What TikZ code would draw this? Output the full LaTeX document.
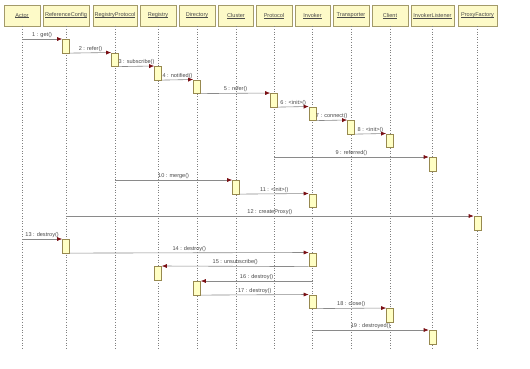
\documentclass[tikz,border=0pt]{standalone}
\usepackage{xcolor}
\usepackage{fontspec}
\usepackage{tikz}
\usetikzlibrary{arrows.meta,positioning,calc}
\newfontfamily\seqfont{Liberation Sans}

\definecolor{headfill}{HTML}{FDFAC8}
\definecolor{headline}{HTML}{A39A6A}
\definecolor{actfill}{HTML}{FFFFC4}
\definecolor{actline}{HTML}{97894F}
\definecolor{tipred}{HTML}{7A0F14}
\definecolor{msggrey}{HTML}{8A8A8A}
\definecolor{txtgrey}{HTML}{4A4A4A}

% underlined participant name
\newcommand{\lifename}[1]{\setbox0\hbox{#1}\rlap{\raisebox{-0.7bp}{\rule{\wd0}{0.35bp}}}\box0}

\tikzset{
  head/.style={draw=headline, line width=0.8bp, fill=headfill, minimum height=21bp,
    inner sep=0pt, text=txtgrey, font=\seqfont\fontsize{5.6}{6}\selectfont},
  act/.style={draw=actline, line width=0.6bp, fill=actfill, minimum width=7bp,
    minimum height=13.5bp, inner sep=0pt, anchor=north},
  life/.style={draw=gray, dotted, line width=0.6bp},
  msg/.style={draw=msggrey, line width=0.6bp, -{Latex[length=5bp,width=4bp,color=tipred]}},
  lbl/.style={midway, above, inner sep=1bp, text=txtgrey, font=\seqfont\fontsize{5.6}{6}\selectfont}
}

\begin{document}
\begin{tikzpicture}[x=1bp, y=-1bp]
      \fill[white] (0,0) rectangle (530,368);
      \useasboundingbox (0,0) rectangle (530,368);

      % participants
      \node[head, minimum width=36bp] (actor)    at (22,15.5)    {\lifename{Actor}};
      \node[head, minimum width=46bp] (refcfg)   at (66,15.5)    {\lifename{ReferenceConfig}};
      \node[head, minimum width=44bp] (regprot)  at (115,15.5)   {\lifename{RegistryProtocol}};
      \node[head, minimum width=36bp] (registry) at (158,15.5)   {\lifename{Registry}};
      \node[head, minimum width=36bp] (dir)      at (197,15.5)   {\lifename{Directory}};
      \node[head, minimum width=35bp] (cluster)  at (236,15.5)   {\lifename{Cluster}};
      \node[head, minimum width=36bp] (protocol) at (274,15.5)   {\lifename{Protocol}};
      \node[head, minimum width=35bp] (invoker)  at (312.5,15.5) {\lifename{Invoker}};
      \node[head, minimum width=36bp] (trans)    at (351,15.5)   {\lifename{Transporter}};
      \node[head, minimum width=36bp] (client)   at (390,15.5)   {\lifename{Client}};
      \node[head, minimum width=43bp] (listener) at (432.5,15.5) {\lifename{InvokerListener}};
      \node[head, minimum width=39bp] (proxyfac) at (477.5,15.5) {\lifename{ProxyFactory}};

      % lifelines
      \coordinate (bottom) at (0,349);
      \foreach \p in {actor,refcfg,regprot,registry,dir,cluster,protocol,invoker,trans,client,listener,proxyfac}
        \draw[life] (\p.south) -- (\p |- bottom);

      % activations
      \node[act] (a1)  at (refcfg |- 0,39)     {};
      \node[act] (a2)  at (regprot |- 0,52.5)  {};
      \node[act] (a3)  at (registry |- 0,66)   {};
      \node[act] (a4)  at (dir |- 0,79.5)      {};
      \node[act] (a5)  at (protocol |- 0,93)   {};
      \node[act] (a6)  at (invoker |- 0,106.5) {};
      \node[act] (a7)  at (trans |- 0,120)     {};
      \node[act] (a8)  at (client |- 0,133.5)  {};
      \node[act] (a9)  at (listener |- 0,157)  {};
      \node[act] (a10) at (cluster |- 0,180)   {};
      \node[act] (a11) at (invoker |- 0,193.5) {};
      \node[act] (a12) at (proxyfac |- 0,216)  {};
      \node[act] (a13) at (refcfg |- 0,239)    {};
      \node[act] (a14) at (invoker |- 0,252.5) {};
      \node[act] (a15) at (registry |- 0,266)  {};
      \node[act] (a16) at (dir |- 0,281)       {};
      \node[act] (a17) at (invoker |- 0,294.5) {};
      \node[act] (a18) at (client |- 0,308)    {};
      \node[act] (a19) at (listener |- 0,330)  {};

      % messages
      \draw[msg] (actor |- a1.north) -- (a1.north west) node[lbl] {1 : get()};
      \draw[msg] (a1.south east) -- (a2.north west) node[lbl] {2 : refer()};
      \draw[msg] (a2.south east) -- (a3.north west) node[lbl] {3 : subscribe()};
      \draw[msg] (a3.south east) -- (a4.north west) node[lbl] {4 : notified()};
      \draw[msg] (a4.south east) -- (a5.north west) node[lbl] {5 : refer()};
      \draw[msg] (a5.south east) -- (a6.north west) node[lbl] {6 : <init>()};
      \draw[msg] (a6.south east) -- (a7.north west) node[lbl] {7 : connect()};
      \draw[msg] (a7.south east) -- (a8.north west) node[lbl] {8 : <init>()};
      \draw[msg] (protocol |- a9.north) -- (a9.north west) node[lbl] {9 : referred()};
      \draw[msg] (regprot |- a10.north) -- (a10.north west) node[lbl] {10 : merge()};
      \draw[msg] (a10.south east) -- (a11.north west) node[lbl] {11 : <init>()};
      \draw[msg] (refcfg |- a12.north) -- (a12.north west) node[lbl] {12 : createProxy()};
      \draw[msg] (actor |- a13.north) -- (a13.north west) node[lbl] {13 : destroy()};
      \draw[msg] (a13.south east) -- (a14.north west) node[lbl] {14 : destroy()};
      \draw[msg] (a14.south west) -- (a15.north east) node[lbl] {15 : unsubscribe()};
      \draw[msg] (invoker |- a16.north) -- (a16.north east) node[lbl] {16 : destroy()};
      \draw[msg] (a16.south east) -- (a17.north west) node[lbl] {17 : destroy()};
      \draw[msg] (a17.south east) -- (a18.north west) node[lbl] {18 : close()};
      \draw[msg] (invoker |- a19.north) -- (a19.north west) node[lbl] {19 : destroyed()};
    \end{tikzpicture}
\end{document}
